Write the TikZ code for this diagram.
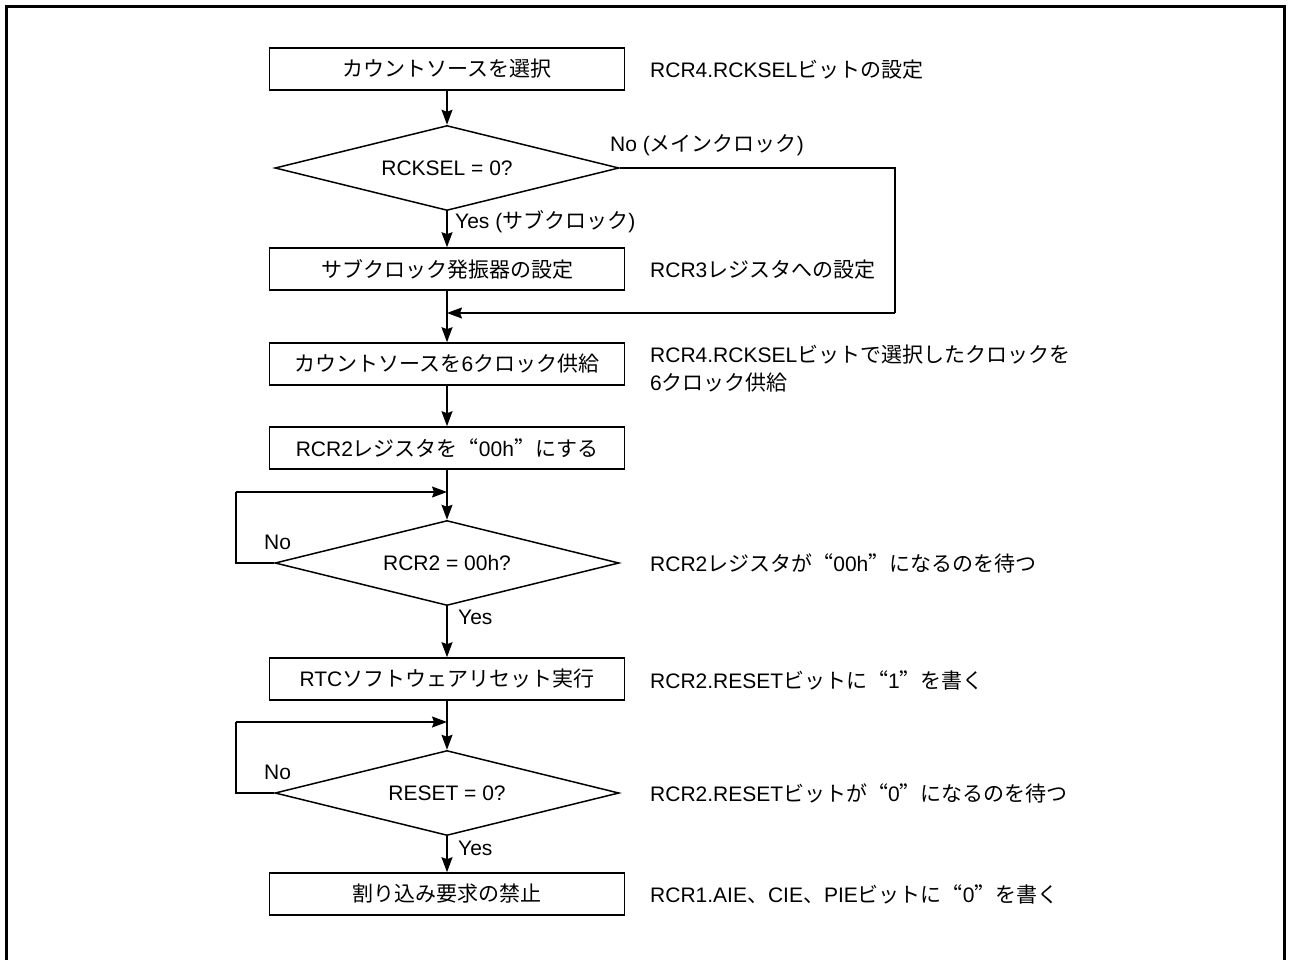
\documentclass[tikz,border=0pt]{standalone}
\usepackage{fontspec}
\setmainfont{Liberation Sans}
\newfontfamily\jpf{Noto Sans CJK JP}
\newfontfamily\jpw{Noto Sans CJK JP}[RawFeature=+fwid]
\newcommand\J[1]{{\jpf #1}}
\newcommand\qo{{\jpw “}}
\newcommand\qc{{\jpw ”}}
\usetikzlibrary{shapes.geometric,arrows.meta}
\begin{document}
\begin{tikzpicture}[x=1pt,y=-1pt,
  every node/.style={font=\fontsize{21}{28}\selectfont, inner sep=0pt},
  box/.style={draw, line width=1.6pt, minimum width=355pt, minimum height=42pt},
  dec/.style={draw, diamond, aspect=4, line width=1.5pt, minimum width=344pt, minimum height=85pt},
  ln/.style={line width=1.5pt},
  arr/.style={line width=1.5pt, -{Stealth[length=15pt,width=11pt,inset=2pt]}},
  note/.style={anchor=west, align=left},
  lbl/.style={anchor=west}]
\useasboundingbox (0,0) rectangle (1289,960);
\draw[line width=3pt] (6,965) -- (6,7) -- (1284,7) -- (1284,965);

\node[box] (b1) at (447,69) {\J{カウントソースを選択}};
\node[dec] (d1) at (447,168) {RCKSEL = 0?};
\node[box] (b2) at (447,269) {\J{サブクロック発振器の設定}};
\node[box] (b3) at (447,364) {\J{カウントソースを}6\J{クロック供給}};
\node[box] (b4) at (447,448) {RCR2\J{レジスタを}\qo 00h\qc\J{にする}};
\node[dec] (d2) at (447,563) {RCR2 = 00h?};
\node[box] (b5) at (447,679) {RTC\J{ソフトウェアリセット実行}};
\node[dec] (d3) at (447,793) {RESET = 0?};
\node[box] (b6) at (447,894) {\J{割り込み要求の禁止}};

\node[note] (n1) at (650,70) {RCR4.RCKSEL\J{ビットの設定}};
\node[note] (n2) at (650,270) {RCR3\J{レジスタへの設定}};
\node[note] (n3) at (650,369) {RCR4.RCKSEL\J{ビットで選択したクロックを}\\6\J{クロック供給}};
\node[note] (n4) at (650,563) {RCR2\J{レジスタが}\qo 00h\qc\J{になるのを待つ}};
\node[note] (n5) at (650,680) {RCR2.RESET\J{ビットに}\qo 1\qc\J{を書く}};
\node[note] (n6) at (650,793) {RCR2.RESET\J{ビットが}\qo 0\qc\J{になるのを待つ}};
\node[note] (n7) at (650,894) {RCR1.AIE\J{、}CIE\J{、}PIE\J{ビットに}\qo 0\qc\J{を書く}};

\coordinate (r1) at (895,168);
\coordinate (r2) at (895,313);
\coordinate (j1) at (447,313);
\coordinate (j2) at (447,492);
\coordinate (l2) at (236,563);
\coordinate (l2t) at (236,492);
\coordinate (j3) at (447,722);
\coordinate (l3) at (236,793);
\coordinate (l3t) at (236,722);

\draw[arr] (b1.south) -- (d1.north);
\draw[arr] (d1.south) -- (b2.north);
\draw[ln] (d1.east) -- (r1) -- (r2);
\draw[arr] (r2) -- (j1);
\draw[arr] (b2.south) -- (b3.north);
\draw[arr] (b3.south) -- (b4.north);
\draw[arr] (b4.south) -- (d2.north);
\draw[ln] (d2.west) -- (l2) -- (l2t);
\draw[arr] (l2t) -- (j2);
\draw[arr] (d2.south) -- (b5.north);
\draw[arr] (b5.south) -- (d3.north);
\draw[ln] (d3.west) -- (l3) -- (l3t);
\draw[arr] (l3t) -- (j3);
\draw[arr] (d3.south) -- (b6.north);

\node[lbl] (no1) at (610,145) {No (\J{メインクロック})};
\node[lbl] (yes1) at (455,222) {Yes (\J{サブクロック})};
\node[lbl] (no2) at (264,542) {No};
\node[lbl] (yes2) at (458,617) {Yes};
\node[lbl] (no3) at (264,772) {No};
\node[lbl] (yes3) at (458,848) {Yes};
\end{tikzpicture}
\end{document}
